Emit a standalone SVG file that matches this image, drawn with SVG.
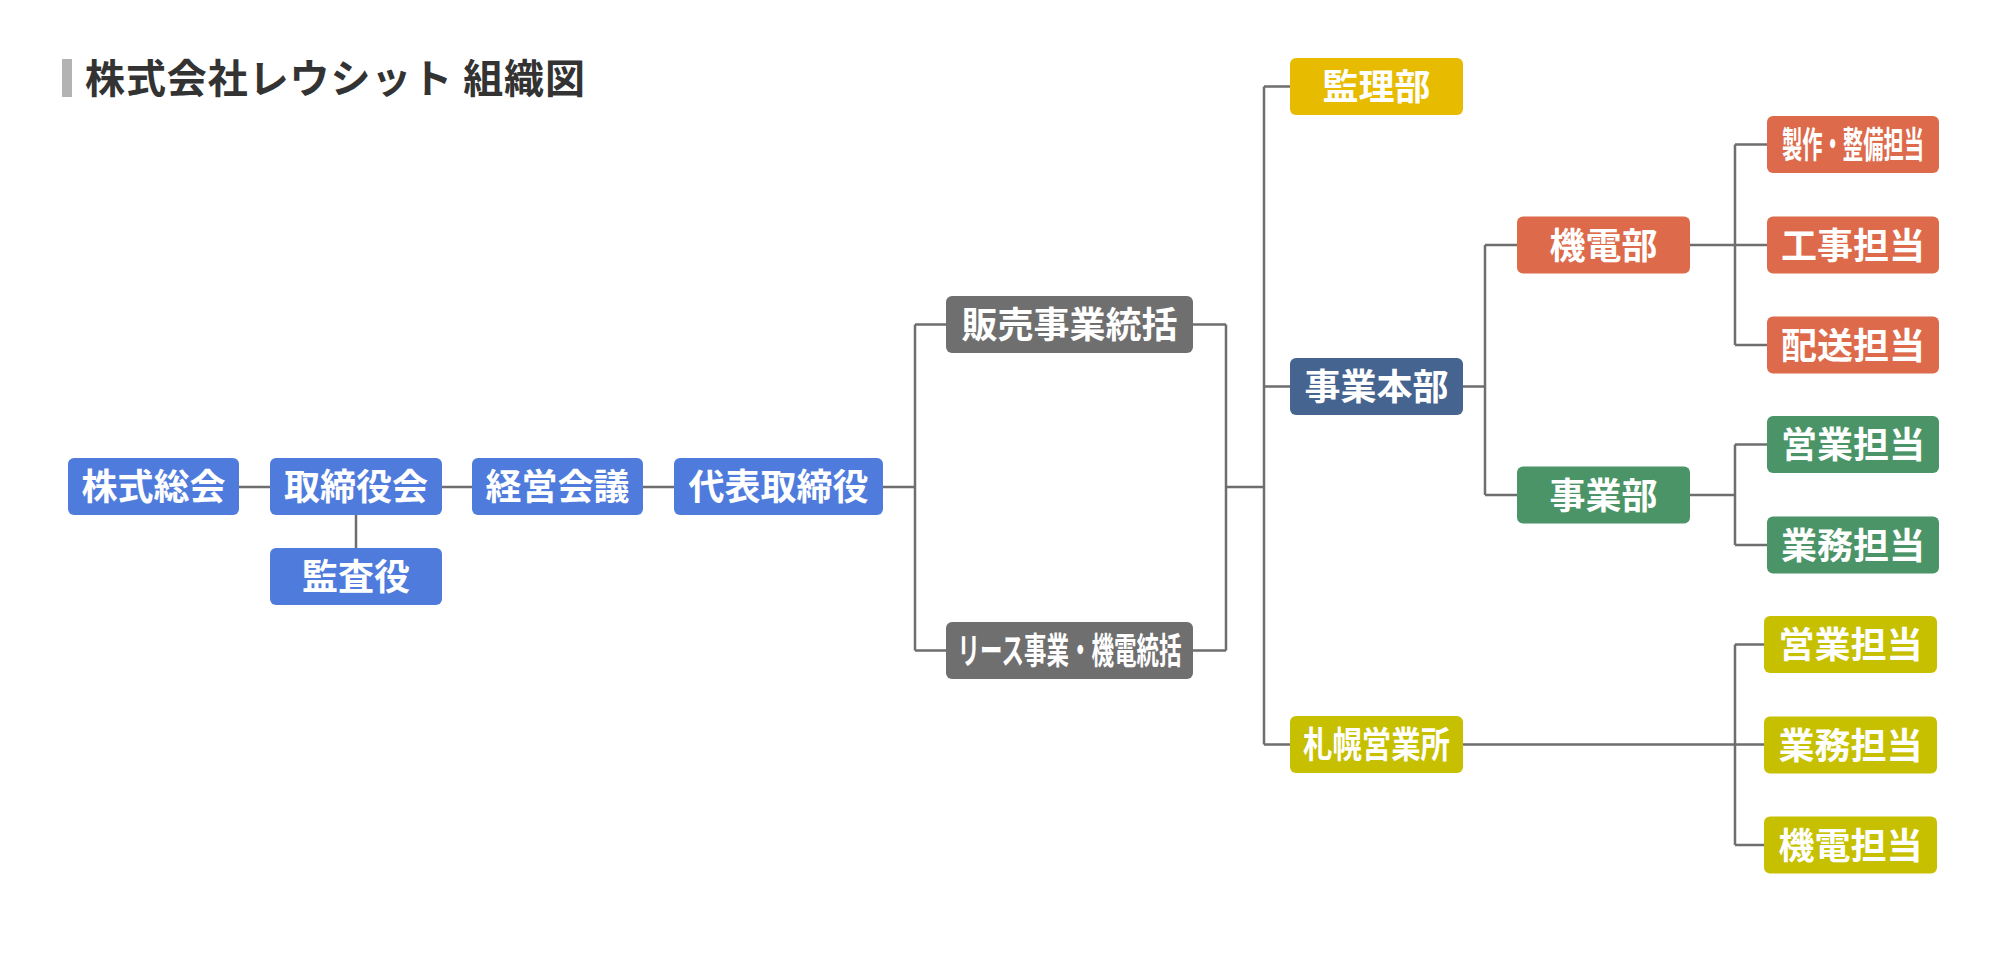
<svg xmlns="http://www.w3.org/2000/svg" width="2008" height="954" viewBox="0 0 2008 954">
<style>
.n rect{rx:6px;ry:6px}
.n text{font-family:"Noto Sans CJK JP","Noto Sans",sans-serif;font-weight:700;font-size:36px;fill:#fff;text-anchor:middle}
.blue rect{fill:#4f7cdc}
.gray rect{fill:#6f6f6f}
.gold rect{fill:#e6bb00}
.navy rect{fill:#466490}
.orange rect{fill:#dc6a4b}
.green rect{fill:#4a9467}
.olive rect{fill:#c6c000}
#connectors path{fill:none;stroke:#6e6e6e;stroke-width:2.5}
.title{font-family:"Noto Sans CJK JP","Noto Sans",sans-serif;font-weight:700;font-size:40px;fill:#333}
</style>
<rect width="2008" height="954" fill="#fff"/>
<g id="title">
<rect x="62" y="59" width="10" height="38" fill="#b3b3b3"/>
<text class="title" x="85" y="93" textLength="500" lengthAdjust="spacing">株式会社レウシット 組織図</text>
</g>
<g id="connectors">
<path d="M239 487H270M442 487H472M643 487H674M356 515V548"/>
<path d="M883 487H915M915 324.5V650.5M915 324.5H946M915 650.5H946"/>
<path d="M1193 324.5H1226M1193 650.5H1226M1226 324.5V650.5M1226 487H1264"/>
<path d="M1264 86.5V744.5M1264 86.5H1290M1264 386.5H1290M1264 744.5H1290"/>
<path d="M1463 386.5H1485M1485 245V495M1485 245H1517M1485 495H1517"/>
<path d="M1690 245H1767M1735 144.5V345M1735 144.5H1767M1735 345H1767"/>
<path d="M1690 495H1735M1735 444.5V545M1735 444.5H1767M1735 545H1767"/>
<path d="M1463 744.5H1764M1735 644.5V845M1735 644.5H1764M1735 845H1764"/>
</g>
<g id="n-kabushiki-sokai" class="n blue"><rect x="68" y="458" width="171" height="57"/><text x="153.5" y="500">株式総会</text></g>
<g id="n-torishimariyakukai" class="n blue"><rect x="270" y="458" width="172" height="57"/><text x="356" y="500">取締役会</text></g>
<g id="n-keiei-kaigi" class="n blue"><rect x="472" y="458" width="171" height="57"/><text x="557.5" y="500">経営会議</text></g>
<g id="n-daihyo" class="n blue"><rect x="674" y="458" width="209" height="57"/><text x="778.5" y="500">代表取締役</text></g>
<g id="n-kansayaku" class="n blue"><rect x="270" y="548" width="172" height="57"/><text x="356" y="590">監査役</text></g>
<g id="n-hanbai" class="n gray"><rect x="946" y="296" width="247" height="57"/><text x="1069.5" y="338">販売事業統括</text></g>
<g id="n-lease" class="n gray"><rect x="946" y="622" width="247" height="57"/><text x="1069.5" y="664" textLength="224" lengthAdjust="spacingAndGlyphs">リース事業・機電統括</text></g>
<g id="n-kanri" class="n gold"><rect x="1290" y="58" width="173" height="57"/><text x="1376.5" y="100">監理部</text></g>
<g id="n-jigyo-honbu" class="n navy"><rect x="1290" y="358" width="173" height="57"/><text x="1376.5" y="400">事業本部</text></g>
<g id="n-sapporo" class="n olive"><rect x="1290" y="716" width="173" height="57"/><text x="1376.5" y="758" textLength="147" lengthAdjust="spacingAndGlyphs">札幌営業所</text></g>
<g id="n-kidenbu" class="n orange"><rect x="1517" y="216.5" width="173" height="57"/><text x="1603.5" y="258.5">機電部</text></g>
<g id="n-jigyobu" class="n green"><rect x="1517" y="466.5" width="173" height="57"/><text x="1603.5" y="508.5">事業部</text></g>
<g id="n-seisaku" class="n orange"><rect x="1767" y="116" width="172" height="57"/><text x="1853" y="158" textLength="142" lengthAdjust="spacingAndGlyphs">製作・整備担当</text></g>
<g id="n-koji" class="n orange"><rect x="1767" y="216.5" width="172" height="57"/><text x="1853" y="258.5">工事担当</text></g>
<g id="n-haiso" class="n orange"><rect x="1767" y="316.5" width="172" height="57"/><text x="1853" y="358.5">配送担当</text></g>
<g id="n-eigyo-1" class="n green"><rect x="1767" y="416" width="172" height="57"/><text x="1853" y="458">営業担当</text></g>
<g id="n-gyomu-1" class="n green"><rect x="1767" y="516.5" width="172" height="57"/><text x="1853" y="558.5">業務担当</text></g>
<g id="n-eigyo-2" class="n olive"><rect x="1764" y="616" width="173" height="57"/><text x="1850.5" y="658">営業担当</text></g>
<g id="n-gyomu-2" class="n olive"><rect x="1764" y="716.5" width="173" height="57"/><text x="1850.5" y="758.5">業務担当</text></g>
<g id="n-kiden-tanto" class="n olive"><rect x="1764" y="816.5" width="173" height="57"/><text x="1850.5" y="858.5">機電担当</text></g>
</svg>
